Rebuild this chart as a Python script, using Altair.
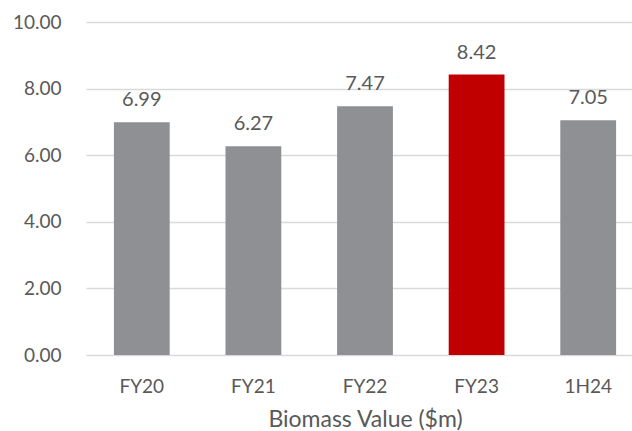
import altair as alt
import pandas as pd

# Biomass value by period ($m)
periods = ["FY20", "FY21", "FY22", "FY23", "1H24"]
values = [6.99, 6.27, 7.47, 8.42, 7.05]
bar_colors = ["#8f9094", "#8f9094", "#8f9094", "#c00000", "#8f9094"]

df = pd.DataFrame({"period": periods, "value": values, "color": bar_colors})

FONT = "Lato"
TEXT = "#595959"

x_scale = alt.Scale(range=[0, 558], paddingInner=0.5, paddingOuter=0.25)
y_scale = alt.Scale(domain=[0, 10])

x_axis = alt.Axis(
    title="Biomass Value ($m)",
    labelAngle=0,
    labelFont=FONT,
    labelFontSize=19,
    labelColor=TEXT,
    labelPadding=22,
    titleFont=FONT,
    titleFontSize=23,
    titleFontWeight="normal",
    titleColor=TEXT,
    titlePadding=12,
    ticks=False,
    domain=False,
    grid=False,
)

y_axis = alt.Axis(
    title=None,
    values=[0, 2, 4, 6, 8, 10],
    format=".2f",
    labelFont=FONT,
    labelFontSize=19,
    labelColor=TEXT,
    labelPadding=25,
    ticks=False,
    domain=False,
    grid=True,
    gridColor="#d9d9d9",
    gridWidth=1.5,
)

bars = alt.Chart(df).mark_bar().encode(
    x=alt.X("period:N", sort=periods, scale=x_scale, axis=x_axis),
    y=alt.Y("value:Q", scale=y_scale, axis=y_axis),
    color=alt.Color("color:N", scale=None),
)

labels = alt.Chart(df).mark_text(
    font=FONT, fontSize=20, color=TEXT, baseline="alphabetic", dy=-16
).encode(
    x=alt.X("period:N", sort=periods, scale=x_scale, axis=x_axis),
    y=alt.Y("value:Q", scale=y_scale, axis=y_axis),
    text=alt.Text("value:Q", format=".2f"),
)

chart = (
    alt.layer(bars, labels)
    .properties(
        width=546,
        height=333,
        autosize=alt.AutoSizeParams(type="none"),
        padding={"left": 86, "top": 22, "right": 0, "bottom": 76},
        view=alt.ViewBackground(strokeWidth=0, stroke="transparent"),
    )
    .configure_axis(domain=False, ticks=False)
    .configure_view(strokeWidth=0, stroke="transparent")
    .configure(background="white")
)

chart.save("out.html", embed_options={"renderer": "svg", "actions": False})
